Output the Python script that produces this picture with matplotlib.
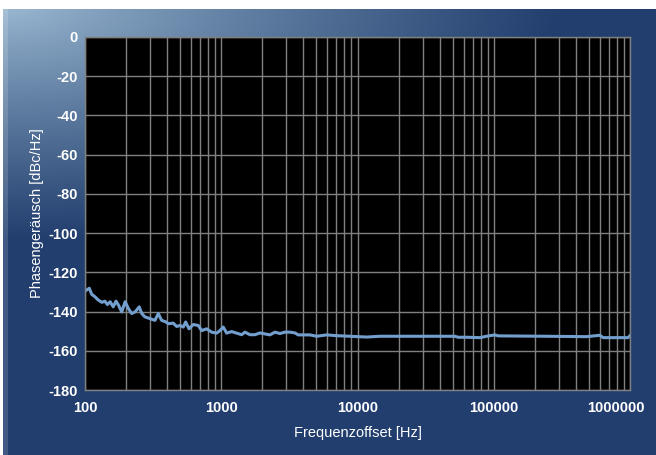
import numpy as np
import matplotlib
matplotlib.use("Agg")
import matplotlib.pyplot as plt
import matplotlib.transforms as mtransforms
from matplotlib.ticker import LogLocator, FixedLocator, NullFormatter

# ---- data ----
freq_hz = [100, 103, 107.5, 112, 118, 125, 133, 140, 146, 153, 161, 169, 176, 186,
           197, 208, 220, 233, 250, 261, 275, 300, 326, 345, 365, 393, 408, 444,
           471, 498, 526, 548, 580, 623, 678, 718, 781, 850, 925, 978, 1034, 1096,
           1192, 1297, 1411, 1493, 1624, 1767, 1923, 2277, 2477, 2696, 2934, 3192,
           3473, 3673, 4477, 5012, 5934, 7027, 8800, 11667, 14600, 51840, 54800,
           63180, 79070, 88560, 101900, 107700, 243800, 479700, 600000, 634800,
           968000, 1000000]
phase_noise = [-129.5, -129.0, -128.1, -131.2, -132.4, -134.1, -135.3, -134.7, -136.4,
               -135.0, -137.6, -134.7, -136.7, -140.2, -135.0, -138.4, -141.0, -140.2,
               -137.6, -141.0, -142.7, -143.6, -144.5, -141.0, -144.5, -145.3, -146.2,
               -145.9, -147.6, -147.1, -147.9, -145.3, -148.8, -146.6, -147.1, -149.7,
               -148.8, -150.5, -151.0, -149.7, -147.9, -151.0, -150.2, -151.0, -151.8,
               -150.5, -151.8, -151.8, -150.9, -151.9, -150.5, -151.2, -150.5, -150.5,
               -150.9, -151.9, -151.9, -152.6, -151.9, -152.3, -152.6, -153.0, -152.6,
               -152.6, -153.1, -153.1, -153.3, -152.6, -151.9, -152.4, -152.6, -152.8,
               -152.1, -153.3, -153.3, -152.3]
x_ticks = [100, 1000, 10000, 100000, 1000000]
x_tick_labels = ["100", "1000", "10000", "100000", "1000000"]
y_ticks = [0, -20, -40, -60, -80, -100, -120, -140, -160, -180]

W, H = 656, 455
fig = plt.figure(figsize=(W / 100, H / 100), dpi=100)
fig.patch.set_facecolor("white")

# ---- background panel gradient ----
yy, xx = np.mgrid[0:H, 0:W].astype(float)
t = np.sqrt((xx / 560.0) ** 2 + (yy / 240.0) ** 2)
t = np.clip(t, 0, 1) ** 0.85
light = np.array([160, 190, 214]) / 255.0
dark = np.array([33, 62, 110]) / 255.0
img = light[None, None, :] * (1 - t[..., None]) + dark[None, None, :] * t[..., None]
strip = (xx >= 3) & (xx < 8)
img[strip] = img[strip] * 0.85 + 0.15 * np.array([1, 1, 1])
img[(yy < 9) | (xx < 3)] = 1.0
bg = fig.add_axes([0, 0, 1, 1], zorder=-10)
bg.imshow(img, extent=[0, W, H, 0], aspect="auto", interpolation="bilinear")
bg.set_xlim(0, W)
bg.set_ylim(H, 0)
bg.axis("off")

# ---- main axes ----
left, right, top, bottom = 85, 630, 37, 390
ax = fig.add_axes([left / W, (H - bottom) / H, (right - left) / W, (bottom - top) / H])
ax.set_facecolor("black")
ax.set_xscale("log")
ax.set_xlim(100, 1000000)
ax.set_ylim(-180, 0)

grid_color = "#808080"
ax.xaxis.set_major_locator(FixedLocator(x_ticks))
ax.xaxis.set_minor_locator(LogLocator(base=10, subs=np.arange(2, 10)))
ax.xaxis.set_minor_formatter(NullFormatter())
ax.set_xticks(x_ticks)
ax.set_xticklabels(x_tick_labels)
ax.set_yticks(y_ticks)
ax.set_yticklabels([str(v) for v in y_ticks])
ax.grid(True, which="major", color=grid_color, linewidth=1.0)
ax.grid(True, which="minor", axis="x", color=grid_color, linewidth=1.0)
ax.set_axisbelow(True)
for s in ax.spines.values():
    s.set_color(grid_color)
    s.set_linewidth(1.0)
ax.tick_params(which="both", length=0, colors="white", pad=8)
for lbl in ax.get_xticklabels() + ax.get_yticklabels():
    lbl.set_fontfamily("Liberation Sans")
    lbl.set_fontweight("bold")
    lbl.set_fontsize(10.5)
    lbl.set_color("white")
ax.tick_params(axis="y", pad=5)

last = ax.get_xticklabels()[-1]
last.set_transform(last.get_transform() + mtransforms.ScaledTranslation(-14 / 100, 0, fig.dpi_scale_trans))

ax.plot(freq_hz, phase_noise, color="#739fcf", linewidth=2.2, solid_joinstyle="round")

ax.set_xlabel("Frequenzoffset [Hz]", color="white", fontsize=10.5,
              fontfamily="Liberation Sans", labelpad=8)
ax.set_ylabel("Phasengeräusch [dBc/Hz]", color="white", fontsize=10.5,
              fontfamily="Liberation Sans", labelpad=3)

fig.savefig("out.png", dpi=100)
